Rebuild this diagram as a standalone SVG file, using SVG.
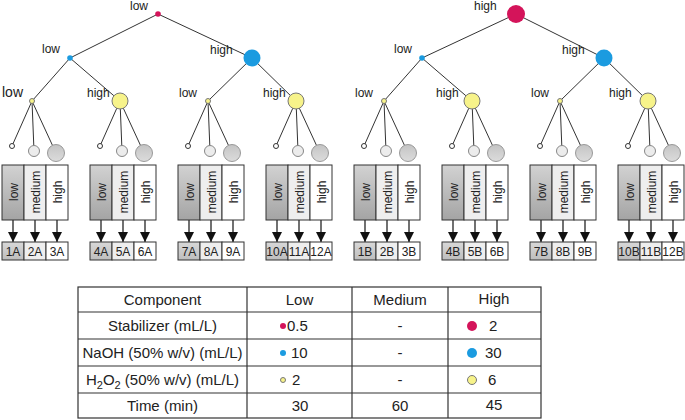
<svg xmlns="http://www.w3.org/2000/svg" width="685" height="420" viewBox="0 0 685 420">
<style>
text{font-family:"Liberation Sans",Arial,sans-serif;fill:#222}
.lbl{font-size:12px}
.lbl14{font-size:14px}
.col{font-size:12px;text-anchor:middle}
.res{font-size:12px;text-anchor:middle}
.tb{font-size:15px;text-anchor:middle}
.e{stroke:#333;stroke-width:1;fill:none}
.mag{fill:#d4145a}
.blu{fill:#1b9be0}
.yel{fill:#f7f38a;stroke:#777;stroke-width:1}
.t1{fill:#fff;stroke:#333;stroke-width:1}
.t2{fill:#ececec;stroke:#888;stroke-width:1}
.t3{fill:url(#gc);stroke:#999;stroke-width:1}
.bx{stroke:#333;stroke-width:1}
.lo{fill:url(#gl)}
.me{fill:#eeeeee}
.hi{fill:#ffffff}
.rlo{fill:url(#gr)}
.ar{stroke:#111;stroke-width:1.2;marker-end:url(#ah)}
.tl{stroke:#333;stroke-width:1.2;fill:none}
</style>
<defs>
<linearGradient id="gl" x1="0" y1="0" x2="0" y2="1"><stop offset="0" stop-color="#d2d2d2"/><stop offset="1" stop-color="#a4a4a4"/></linearGradient>
<linearGradient id="gr" x1="0" y1="0" x2="0" y2="1"><stop offset="0" stop-color="#d8d8d8"/><stop offset="1" stop-color="#bdbdbd"/></linearGradient>
<linearGradient id="gc" x1="0" y1="0" x2="0" y2="1"><stop offset="0" stop-color="#c4c4c4"/><stop offset="1" stop-color="#dcdcdc"/></linearGradient>
<marker id="ah" viewBox="0 0 10 10" refX="10" refY="5" markerWidth="10" markerHeight="10" markerUnits="userSpaceOnUse" orient="auto"><path d="M0,0 L10,5 L0,10 z" fill="#111"/></marker>
</defs>

<g id="connectors">
<line class="e" x1="158" y1="14" x2="70" y2="58"/><line class="e" x1="158" y1="14" x2="252" y2="58"/>
<line class="e" x1="70" y1="58" x2="32" y2="101"/><line class="e" x1="70" y1="58" x2="120" y2="101"/>
<line class="e" x1="252" y1="58" x2="208" y2="101"/><line class="e" x1="252" y1="58" x2="296" y2="101"/>
<line class="e" x1="516" y1="14" x2="422" y2="58"/><line class="e" x1="516" y1="14" x2="604" y2="58"/>
<line class="e" x1="422" y1="58" x2="384" y2="101"/><line class="e" x1="422" y1="58" x2="472" y2="101"/>
<line class="e" x1="604" y1="58" x2="560" y2="101"/><line class="e" x1="604" y1="58" x2="648" y2="101"/>
<line class="e" x1="32" y1="101" x2="12" y2="146"/><line class="e" x1="32" y1="101" x2="34" y2="151"/><line class="e" x1="32" y1="101" x2="56" y2="153"/>
<line class="e" x1="120" y1="101" x2="100" y2="146"/><line class="e" x1="120" y1="101" x2="122" y2="151"/><line class="e" x1="120" y1="101" x2="144" y2="153"/>
<line class="e" x1="208" y1="101" x2="188" y2="146"/><line class="e" x1="208" y1="101" x2="210" y2="151"/><line class="e" x1="208" y1="101" x2="232" y2="153"/>
<line class="e" x1="296" y1="101" x2="276" y2="146"/><line class="e" x1="296" y1="101" x2="298" y2="151"/><line class="e" x1="296" y1="101" x2="320" y2="153"/>
<line class="e" x1="384" y1="101" x2="364" y2="146"/><line class="e" x1="384" y1="101" x2="386" y2="151"/><line class="e" x1="384" y1="101" x2="408" y2="153"/>
<line class="e" x1="472" y1="101" x2="452" y2="146"/><line class="e" x1="472" y1="101" x2="474" y2="151"/><line class="e" x1="472" y1="101" x2="496" y2="153"/>
<line class="e" x1="560" y1="101" x2="540" y2="146"/><line class="e" x1="560" y1="101" x2="562" y2="151"/><line class="e" x1="560" y1="101" x2="584" y2="153"/>
<line class="e" x1="648" y1="101" x2="628" y2="146"/><line class="e" x1="648" y1="101" x2="650" y2="151"/><line class="e" x1="648" y1="101" x2="672" y2="153"/>
<g id="arrows">
<line class="ar" x1="13" y1="220" x2="13" y2="242"/><line class="ar" x1="35" y1="220" x2="35" y2="242"/><line class="ar" x1="57" y1="220" x2="57" y2="242"/>
<line class="ar" x1="101" y1="220" x2="101" y2="242"/><line class="ar" x1="123" y1="220" x2="123" y2="242"/><line class="ar" x1="145" y1="220" x2="145" y2="242"/>
<line class="ar" x1="189" y1="220" x2="189" y2="242"/><line class="ar" x1="211" y1="220" x2="211" y2="242"/><line class="ar" x1="233" y1="220" x2="233" y2="242"/>
<line class="ar" x1="277" y1="220" x2="277" y2="242"/><line class="ar" x1="299" y1="220" x2="299" y2="242"/><line class="ar" x1="321" y1="220" x2="321" y2="242"/>
<line class="ar" x1="365" y1="220" x2="365" y2="242"/><line class="ar" x1="387" y1="220" x2="387" y2="242"/><line class="ar" x1="409" y1="220" x2="409" y2="242"/>
<line class="ar" x1="453" y1="220" x2="453" y2="242"/><line class="ar" x1="475" y1="220" x2="475" y2="242"/><line class="ar" x1="497" y1="220" x2="497" y2="242"/>
<line class="ar" x1="541" y1="220" x2="541" y2="242"/><line class="ar" x1="563" y1="220" x2="563" y2="242"/><line class="ar" x1="585" y1="220" x2="585" y2="242"/>
<line class="ar" x1="629" y1="220" x2="629" y2="242"/><line class="ar" x1="651" y1="220" x2="651" y2="242"/><line class="ar" x1="673" y1="220" x2="673" y2="242"/>
</g>
</g>

<g id="A-root"><circle class="mag" cx="158" cy="14" r="2.8"/><text class="lbl" x="130" y="10">low</text></g>
<g id="A-L"><circle class="blu" cx="70" cy="58" r="2.8"/><text class="lbl" x="42" y="53">low</text></g>
<g id="A-H"><circle class="blu" cx="252" cy="58" r="8.5"/><text class="lbl" x="210" y="54">high</text></g>
<g id="A-LL"><circle class="yel" cx="32" cy="101" r="2.5"/><text class="lbl14" x="2" y="97">low</text></g>
<g id="A-LH"><circle class="yel" cx="120" cy="101" r="8"/><text class="lbl" x="87" y="97">high</text></g>
<g id="A-HL"><circle class="yel" cx="208" cy="101" r="2.5"/><text class="lbl" x="179" y="97">low</text></g>
<g id="A-HH"><circle class="yel" cx="296" cy="101" r="8"/><text class="lbl" x="263" y="97">high</text></g>

<g id="B-root"><circle class="mag" cx="516" cy="14" r="9"/><text class="lbl" x="474" y="10">high</text></g>
<g id="B-L"><circle class="blu" cx="422" cy="58" r="2.8"/><text class="lbl" x="394" y="53">low</text></g>
<g id="B-H"><circle class="blu" cx="604" cy="58" r="8.5"/><text class="lbl" x="562" y="54">high</text></g>
<g id="B-LL"><circle class="yel" cx="384" cy="101" r="2.5"/><text class="lbl" x="355" y="97">low</text></g>
<g id="B-LH"><circle class="yel" cx="472" cy="101" r="8"/><text class="lbl" x="436" y="97">high</text></g>
<g id="B-HL"><circle class="yel" cx="560" cy="101" r="2.5"/><text class="lbl" x="531" y="97">low</text></g>
<g id="B-HH"><circle class="yel" cx="648" cy="101" r="8"/><text class="lbl" x="609" y="97">high</text></g>

<g id="grp-A1">
<circle class="t1" cx="12" cy="146" r="2.5"/><circle class="t2" cx="34" cy="151" r="5.5"/><circle class="t3" cx="56" cy="153" r="8.5"/>
<rect class="bx lo" x="2" y="165" width="22" height="55"/><rect class="bx me" x="24" y="165" width="22" height="55"/><rect class="bx hi" x="46" y="165" width="22" height="55"/>
<text class="col" transform="translate(17.5,192) rotate(-90)">low</text><text class="col" transform="translate(39.5,192) rotate(-90)">medium</text><text class="col" transform="translate(61.5,192) rotate(-90)">high</text>
<rect class="bx rlo" x="2" y="242" width="22" height="18"/><rect class="bx me" x="24" y="242" width="22" height="18"/><rect class="bx hi" x="46" y="242" width="22" height="18"/>
<text class="res" x="13" y="255.5">1A</text><text class="res" x="35" y="255.5">2A</text><text class="res" x="57" y="255.5">3A</text>
</g>
<g id="grp-A2">
<circle class="t1" cx="100" cy="146" r="2.5"/><circle class="t2" cx="122" cy="151" r="5.5"/><circle class="t3" cx="144" cy="153" r="8.5"/>
<rect class="bx lo" x="90" y="165" width="22" height="55"/><rect class="bx me" x="112" y="165" width="22" height="55"/><rect class="bx hi" x="134" y="165" width="22" height="55"/>
<text class="col" transform="translate(105.5,192) rotate(-90)">low</text><text class="col" transform="translate(127.5,192) rotate(-90)">medium</text><text class="col" transform="translate(149.5,192) rotate(-90)">high</text>
<rect class="bx rlo" x="90" y="242" width="22" height="18"/><rect class="bx me" x="112" y="242" width="22" height="18"/><rect class="bx hi" x="134" y="242" width="22" height="18"/>
<text class="res" x="101" y="255.5">4A</text><text class="res" x="123" y="255.5">5A</text><text class="res" x="145" y="255.5">6A</text>
</g>
<g id="grp-A3">
<circle class="t1" cx="188" cy="146" r="2.5"/><circle class="t2" cx="210" cy="151" r="5.5"/><circle class="t3" cx="232" cy="153" r="8.5"/>
<rect class="bx lo" x="178" y="165" width="22" height="55"/><rect class="bx me" x="200" y="165" width="22" height="55"/><rect class="bx hi" x="222" y="165" width="22" height="55"/>
<text class="col" transform="translate(193.5,192) rotate(-90)">low</text><text class="col" transform="translate(215.5,192) rotate(-90)">medium</text><text class="col" transform="translate(237.5,192) rotate(-90)">high</text>
<rect class="bx rlo" x="178" y="242" width="22" height="18"/><rect class="bx me" x="200" y="242" width="22" height="18"/><rect class="bx hi" x="222" y="242" width="22" height="18"/>
<text class="res" x="189" y="255.5">7A</text><text class="res" x="211" y="255.5">8A</text><text class="res" x="233" y="255.5">9A</text>
</g>
<g id="grp-A4">
<circle class="t1" cx="276" cy="146" r="2.5"/><circle class="t2" cx="298" cy="151" r="5.5"/><circle class="t3" cx="320" cy="153" r="8.5"/>
<rect class="bx lo" x="266" y="165" width="22" height="55"/><rect class="bx me" x="288" y="165" width="22" height="55"/><rect class="bx hi" x="310" y="165" width="22" height="55"/>
<text class="col" transform="translate(281.5,192) rotate(-90)">low</text><text class="col" transform="translate(303.5,192) rotate(-90)">medium</text><text class="col" transform="translate(325.5,192) rotate(-90)">high</text>
<rect class="bx rlo" x="266" y="242" width="22" height="18"/><rect class="bx me" x="288" y="242" width="22" height="18"/><rect class="bx hi" x="310" y="242" width="22" height="18"/>
<text class="res" x="277" y="255.5">10A</text><text class="res" x="299" y="255.5">11A</text><text class="res" x="321" y="255.5">12A</text>
</g>
<g id="grp-B1">
<circle class="t1" cx="364" cy="146" r="2.5"/><circle class="t2" cx="386" cy="151" r="5.5"/><circle class="t3" cx="408" cy="153" r="8.5"/>
<rect class="bx lo" x="354" y="165" width="22" height="55"/><rect class="bx me" x="376" y="165" width="22" height="55"/><rect class="bx hi" x="398" y="165" width="22" height="55"/>
<text class="col" transform="translate(369.5,192) rotate(-90)">low</text><text class="col" transform="translate(391.5,192) rotate(-90)">medium</text><text class="col" transform="translate(413.5,192) rotate(-90)">high</text>
<rect class="bx rlo" x="354" y="242" width="22" height="18"/><rect class="bx me" x="376" y="242" width="22" height="18"/><rect class="bx hi" x="398" y="242" width="22" height="18"/>
<text class="res" x="365" y="255.5">1B</text><text class="res" x="387" y="255.5">2B</text><text class="res" x="409" y="255.5">3B</text>
</g>
<g id="grp-B2">
<circle class="t1" cx="452" cy="146" r="2.5"/><circle class="t2" cx="474" cy="151" r="5.5"/><circle class="t3" cx="496" cy="153" r="8.5"/>
<rect class="bx lo" x="442" y="165" width="22" height="55"/><rect class="bx me" x="464" y="165" width="22" height="55"/><rect class="bx hi" x="486" y="165" width="22" height="55"/>
<text class="col" transform="translate(457.5,192) rotate(-90)">low</text><text class="col" transform="translate(479.5,192) rotate(-90)">medium</text><text class="col" transform="translate(501.5,192) rotate(-90)">high</text>
<rect class="bx rlo" x="442" y="242" width="22" height="18"/><rect class="bx me" x="464" y="242" width="22" height="18"/><rect class="bx hi" x="486" y="242" width="22" height="18"/>
<text class="res" x="453" y="255.5">4B</text><text class="res" x="475" y="255.5">5B</text><text class="res" x="497" y="255.5">6B</text>
</g>
<g id="grp-B3">
<circle class="t1" cx="540" cy="146" r="2.5"/><circle class="t2" cx="562" cy="151" r="5.5"/><circle class="t3" cx="584" cy="153" r="8.5"/>
<rect class="bx lo" x="530" y="165" width="22" height="55"/><rect class="bx me" x="552" y="165" width="22" height="55"/><rect class="bx hi" x="574" y="165" width="22" height="55"/>
<text class="col" transform="translate(545.5,192) rotate(-90)">low</text><text class="col" transform="translate(567.5,192) rotate(-90)">medium</text><text class="col" transform="translate(589.5,192) rotate(-90)">high</text>
<rect class="bx rlo" x="530" y="242" width="22" height="18"/><rect class="bx me" x="552" y="242" width="22" height="18"/><rect class="bx hi" x="574" y="242" width="22" height="18"/>
<text class="res" x="541" y="255.5">7B</text><text class="res" x="563" y="255.5">8B</text><text class="res" x="585" y="255.5">9B</text>
</g>
<g id="grp-B4">
<circle class="t1" cx="628" cy="146" r="2.5"/><circle class="t2" cx="650" cy="151" r="5.5"/><circle class="t3" cx="672" cy="153" r="8.5"/>
<rect class="bx lo" x="618" y="165" width="22" height="55"/><rect class="bx me" x="640" y="165" width="22" height="55"/><rect class="bx hi" x="662" y="165" width="22" height="55"/>
<text class="col" transform="translate(633.5,192) rotate(-90)">low</text><text class="col" transform="translate(655.5,192) rotate(-90)">medium</text><text class="col" transform="translate(677.5,192) rotate(-90)">high</text>
<rect class="bx rlo" x="618" y="242" width="22" height="18"/><rect class="bx me" x="640" y="242" width="22" height="18"/><rect class="bx hi" x="662" y="242" width="22" height="18"/>
<text class="res" x="629" y="255.5">10B</text><text class="res" x="651" y="255.5">11B</text><text class="res" x="673" y="255.5">12B</text>
</g>

<g id="table">
<rect class="tl" x="78" y="287" width="463" height="131"/>
<line class="tl" x1="78" y1="312" x2="541" y2="312"/>
<line class="tl" x1="78" y1="339" x2="541" y2="339"/>
<line class="tl" x1="78" y1="366" x2="541" y2="366"/>
<line class="tl" x1="78" y1="393" x2="541" y2="393"/>
<line class="tl" x1="247" y1="287" x2="247" y2="418"/>
<line class="tl" x1="352" y1="287" x2="352" y2="418"/>
<line class="tl" x1="448" y1="287" x2="448" y2="418"/>
<text class="tb" x="162.5" y="305">Component</text>
<text class="tb" x="299.5" y="305">Low</text>
<text class="tb" x="400" y="305">Medium</text>
<text class="tb" x="494" y="304">High</text>
<text class="tb" x="162.5" y="331">Stabilizer (mL/L)</text>
<text class="tb" x="162.5" y="358">NaOH (50% w/v) (mL/L)</text>
<text class="tb" x="162.5" y="385">H<tspan font-size="11" dy="4">2</tspan><tspan dy="-4">O</tspan><tspan font-size="11" dy="4">2</tspan><tspan dy="-4"> (50% w/v) (mL/L)</tspan></text>
<text class="tb" x="162.5" y="411">Time (min)</text>
<circle class="mag" cx="283" cy="326" r="3"/><text style="font-size:15px" x="287" y="331">0.5</text>
<circle class="blu" cx="283" cy="353" r="3"/><text style="font-size:15px" x="291" y="358">10</text>
<circle class="yel" cx="283" cy="380" r="2.5"/><text style="font-size:15px" x="292" y="385">2</text>
<text class="tb" x="300" y="411">30</text>
<text class="tb" x="400" y="331">-</text>
<text class="tb" x="400" y="358">-</text>
<text class="tb" x="400" y="385">-</text>
<text class="tb" x="400" y="411">60</text>
<circle class="mag" cx="472" cy="326" r="5"/><text style="font-size:15px" x="489" y="331">2</text>
<circle class="blu" cx="472" cy="353" r="5"/><text style="font-size:15px" x="485" y="358">30</text>
<circle class="yel" cx="472" cy="380" r="4.5"/><text style="font-size:15px" x="488" y="385">6</text>
<text class="tb" x="494" y="410">45</text>
</g>
</svg>
